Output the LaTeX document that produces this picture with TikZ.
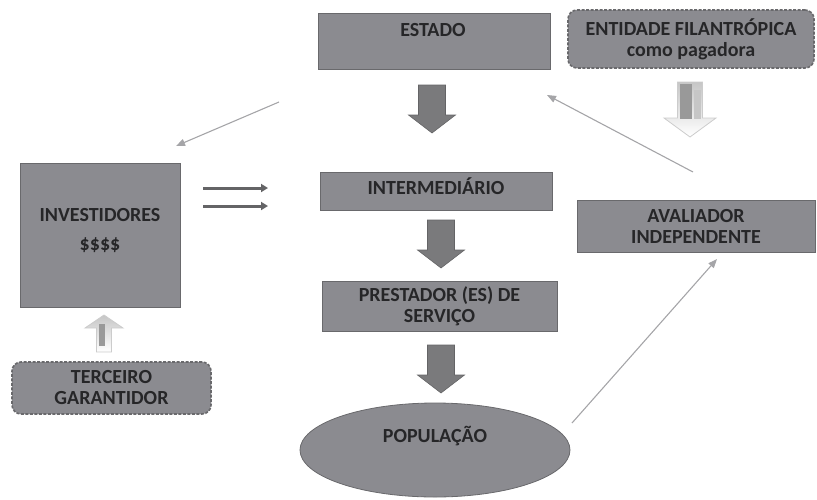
\documentclass[tikz,border=0pt]{standalone}
\usepackage{fontspec}
\setmainfont{Carlito}
\usetikzlibrary{arrows.meta,shapes.geometric}
\definecolor{boxfill}{RGB}{139,139,144}
\definecolor{boxline}{RGB}{105,105,108}
\definecolor{txt}{RGB}{38,38,40}
\definecolor{arrfill}{RGB}{122,122,124}
\definecolor{arrline}{RGB}{100,100,102}
\definecolor{thin}{RGB}{165,165,168}
\tikzset{
  boxnode/.style={draw=boxline, fill=boxfill, line width=0.8pt, inner sep=0pt, text=txt, font=\fontsize{20}{21}\selectfont\bfseries, align=center},
  dashbox/.style={boxnode, dashed, dash pattern=on 3pt off 1.5pt, line width=1.6pt, draw=boxline, rounded corners=9pt},
  txtlabel/.style={text=txt, font=\fontsize{20}{21}\selectfont\bfseries, align=center, inner sep=0pt},
  blockarrow/.style={fill=arrfill, draw=arrline, line width=0.6pt},
  hollowarrow/.style={top color=gray!45, bottom color=white, draw=gray!40, line width=0.8pt},
  hollowcore/.style={fill=gray!80, draw=none},
  hollowlight/.style={fill=gray!45, draw=none},
  thinarrow/.style={draw=thin, line width=1.1pt, -{Triangle[length=9pt,width=7pt]}},
  doublearrow/.style={draw=arrline, line width=3pt, -{Triangle[length=7pt,width=8pt]}},
}
\newcommand{\downblock}[3]{% x, ytop, style
  \draw[#3] (#1-13.5,#2) -- (#1+13.5,#2) -- (#1+13.5,#2+30) -- (#1+23.5,#2+30) -- (#1,#2+48) -- (#1-23.5,#2+30) -- (#1-13.5,#2+30) -- cycle;}
\begin{document}
\begin{tikzpicture}[x=1pt,y=-1pt]
\useasboundingbox (0,0) rectangle (817,499);
% boxes
\node[boxnode, minimum width=232pt, minimum height=56pt] (estado) at (434,41) {};
\node[txtlabel] (estadot) at (433,30) {ESTADO};
\node[dashbox, minimum width=246pt, minimum height=58pt] (entidade) at (691,39) {ENTIDADE FILANTRÓPICA\\como pagadora};
\node[boxnode, minimum width=160pt, minimum height=144pt] (invest) at (100,235) {};
\node[txtlabel] (investt) at (100,215) {INVESTIDORES};
\node[txtlabel] (dollar) at (100,245) {\$\$\$\$};
\node[boxnode, minimum width=232pt, minimum height=38pt] (inter) at (436,191) {};
\node[txtlabel] (intert) at (436,186) {INTERMEDIÁRIO};
\node[boxnode, minimum width=235pt, minimum height=50pt] (prest) at (439.5,306) {PRESTADOR (ES) DE\\SERVIÇO};
\node[boxnode, ellipse, minimum width=270pt, minimum height=94pt] (pop) at (435,450) {};
\node[txtlabel] (popt) at (435,436) {POPULAÇÃO};
\node[boxnode, minimum width=238pt, minimum height=52pt] (aval) at (696,226) {AVALIADOR\\INDEPENDENTE};
\node[dashbox, minimum width=199pt, minimum height=52pt] (terc) at (111.5,388) {TERCEIRO\\GARANTIDOR};
% block arrows
\downblock{432}{85}{blockarrow}
\downblock{441}{220}{blockarrow}
\downblock{441}{345}{blockarrow}
% hollow arrow from entidade
\draw[hollowarrow] (677.5,82) -- (702.5,82) -- (702.5,118) -- (716,118) -- (690,137) -- (664,118) -- (677.5,118) -- cycle;
\fill[hollowcore] (679.5,84) rectangle (692,119);
\fill[hollowlight] (694,90) rectangle (700.5,119);
% hollow up arrow under investidores
\draw[hollowarrow] (96.5,352) -- (111.5,352) -- (111.5,328) -- (123,328) -- (104,315) -- (85,328) -- (96.5,328) -- cycle;
\fill[hollowcore] (98.5,324) rectangle (105,346);
% thin arrows
\coordinate (s1) at (279,102);
\coordinate (e1) at (176,146);
\draw[thinarrow] (s1) -- (e1);
\coordinate (s2) at (693,172);
\coordinate (e2) at (547,95);
\draw[thinarrow] (s2) -- (e2);
\coordinate (s3) at (572,423);
\coordinate (e3) at (717,259);
\draw[thinarrow] (s3) -- (e3);
% double arrows
\coordinate (d1s) at (203,188);
\coordinate (d1e) at (268,188);
\coordinate (d2s) at (203,206);
\coordinate (d2e) at (268,206);
\draw[doublearrow] (d1s) -- (d1e);
\draw[doublearrow] (d2s) -- (d2e);
\end{tikzpicture}
\end{document}
